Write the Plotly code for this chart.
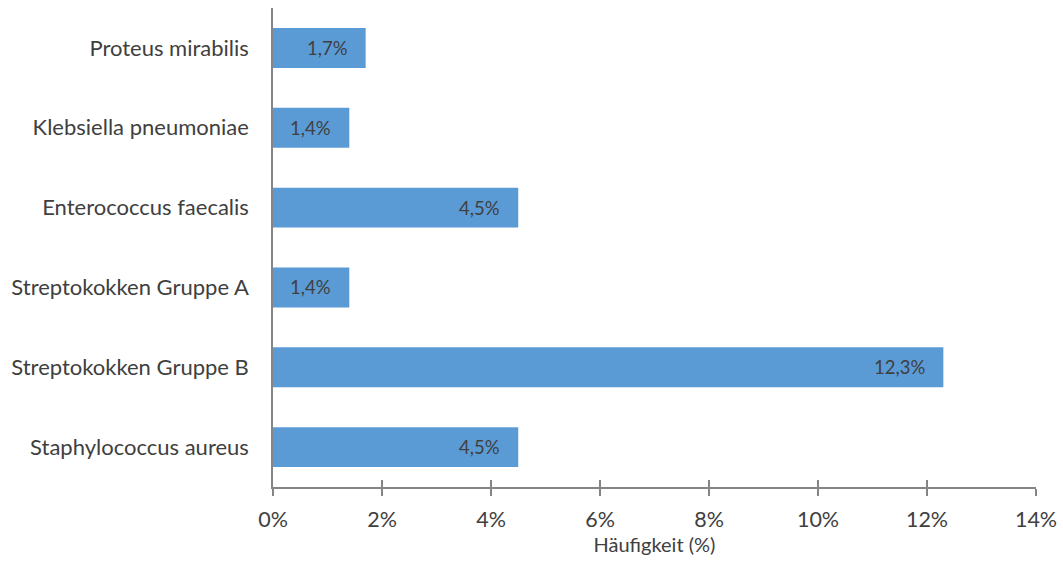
import plotly.graph_objects as go

categories = ["Staphylococcus aureus", "Streptokokken Gruppe B", "Streptokokken Gruppe A",
              "Enterococcus faecalis", "Klebsiella pneumoniae", "Proteus mirabilis"]
values = [4.5, 12.3, 1.4, 4.5, 1.4, 1.7]
tick_vals = [0, 2, 4, 6, 8, 10, 12, 14]
tick_text = [f"{t}%" for t in tick_vals]
labels = [f"{v:.1f}".replace(".", ",") + "%" for v in values]

FONT = "Lato, Carlito, Calibri, sans-serif"
TXT = "#404040"
AX = "#858585"

fig = go.Figure()
fig.add_trace(go.Bar(x=values, y=categories, orientation="h", width=0.5,
                     marker=dict(color="#5B9BD5", line=dict(width=0)),
                     hoverinfo="x+y"))
fig.add_trace(go.Scatter(x=[None], y=[None], xaxis="x2", yaxis="y", showlegend=False))

for v, c, t in zip(values, categories, labels):
    fig.add_annotation(x=v, y=c, text=t, showarrow=False, xanchor="right", xshift=-16,
                       font=dict(family=FONT, size=18.5, color=TXT))

fig.update_layout(
    width=1063, height=561,
    margin=dict(l=273, r=27, t=8, b=74),
    paper_bgcolor="white", plot_bgcolor="white",
    showlegend=False,
    font=dict(family=FONT, size=21, color=TXT),
    xaxis=dict(range=[0, 14], tickvals=tick_vals, ticktext=tick_text, automargin=False,
               showgrid=False, zeroline=False, showline=True, linecolor=AX, linewidth=1.5,
               ticks="outside", ticklen=7, tickwidth=1.5, tickcolor=AX,
               ticklabelstandoff=5,
               tickfont=dict(family=FONT, size=21.5, color=TXT),
               title=dict(text="Häufigkeit (%)", font=dict(family=FONT, size=20, color=TXT), standoff=5)),
    xaxis2=dict(range=[0, 14], overlaying="x", anchor="y", side="bottom", tickvals=tick_vals,
                showticklabels=False, showgrid=False, zeroline=False, showline=False,
                ticks="inside", ticklen=7, tickwidth=1.5, tickcolor=AX, automargin=False),
    yaxis=dict(categoryorder="array", categoryarray=categories, showgrid=False, automargin=False,
               zeroline=False, showline=True, linecolor=AX, linewidth=1.5, ticks="",
               ticklabelstandoff=18, tickfont=dict(family=FONT, size=22, color=TXT)),
)
fig.write_html("out.html")
